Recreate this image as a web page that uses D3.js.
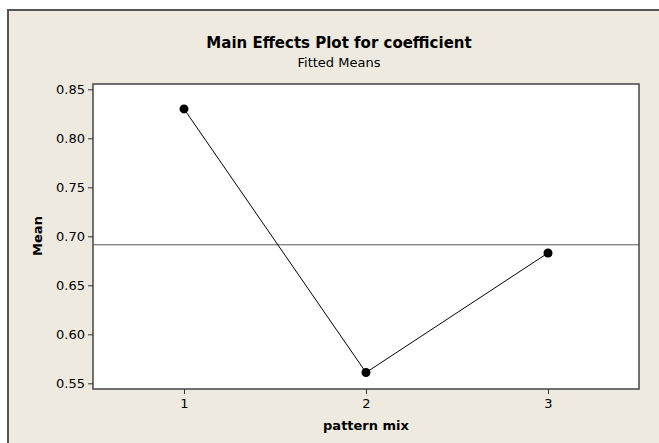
<!DOCTYPE html>
<html>
<head>
<meta charset="utf-8">
<script src="https://cdn.jsdelivr.net/npm/d3@7"></script>
<style>
  html, body { margin: 0; padding: 0; background: #ffffff; }
  svg { display: block; }
  text { font-family: "DejaVu Sans", sans-serif; fill: #000; }
</style>
</head>
<body>
<svg id="chart" width="659" height="443"></svg>
<script>
// Factor levels and fitted means
const levels = [1, 2, 3];
const means = [0.830, 0.561, 0.683];
const yTicks = [0.55, 0.60, 0.65, 0.70, 0.75, 0.80, 0.85];
const xTickLabels = ["1", "2", "3"];

const title = "Main Effects Plot for coefficient";
const subtitle = "Fitted Means";
const xLabel = "pattern mix";
const yLabel = "Mean";

const W = 659, H = 443;
const plot = { left: 93, top: 84, right: 639, bottom: 389 };
const FONT = "'DejaVu Sans', sans-serif";

const svg = d3.select("#chart");

// Outer frame
svg.append("rect")
  .attr("x", 8).attr("y", 10)
  .attr("width", W + 10).attr("height", H + 10)
  .attr("fill", "#EEEAE0")
  .attr("stroke", "#555")
  .attr("stroke-width", 2);

const x = d3.scaleLinear().domain([0.5, 3.5]).range([plot.left, plot.right]);
const y = d3.scaleLinear().domain([0.5442, 0.8554]).range([plot.bottom, plot.top]);

// Plot area
svg.append("rect")
  .attr("x", plot.left).attr("y", plot.top)
  .attr("width", plot.right - plot.left).attr("height", plot.bottom - plot.top)
  .attr("fill", "#fff");

// Reference line at the grand mean
const grandMean = d3.mean(means);
svg.append("line")
  .attr("x1", plot.left).attr("x2", plot.right)
  .attr("y1", y(grandMean)).attr("y2", y(grandMean))
  .attr("stroke", "#555").attr("stroke-width", 1);

// Connecting line and points
const pts = levels.map((l, i) => [l, means[i]]);
svg.append("path")
  .datum(pts)
  .attr("fill", "none")
  .attr("stroke", "#000")
  .attr("stroke-width", 1)
  .attr("d", d3.line().x(d => x(d[0])).y(d => y(d[1])));

svg.selectAll("circle.pt")
  .data(pts)
  .join("circle")
  .attr("class", "pt")
  .attr("cx", d => x(d[0])).attr("cy", d => y(d[1]))
  .attr("r", 4.5)
  .attr("fill", "#000");

// Plot border
svg.append("rect")
  .attr("x", plot.left).attr("y", plot.top)
  .attr("width", plot.right - plot.left).attr("height", plot.bottom - plot.top)
  .attr("fill", "none")
  .attr("stroke", "#444")
  .attr("stroke-width", 1.5);

// Axes
const yAxis = d3.axisLeft(y).tickValues(yTicks).tickFormat(d3.format(".2f")).tickSize(5).tickPadding(3);
const gy = svg.append("g").attr("transform", `translate(${plot.left},0)`).call(yAxis)
  .attr("font-size", 13).attr("font-family", FONT);
gy.select(".domain").remove();
gy.selectAll(".tick line").attr("stroke", "#333");

const xAxis = d3.axisBottom(x).tickValues(levels).tickFormat((d, i) => xTickLabels[i]).tickSize(5).tickPadding(5);
const gx = svg.append("g").attr("transform", `translate(0,${plot.bottom})`).call(xAxis)
  .attr("font-size", 13).attr("font-family", FONT);
gx.select(".domain").remove();
gx.selectAll(".tick line").attr("stroke", "#333");

// Titles
svg.append("text")
  .attr("x", 339).attr("y", 48)
  .attr("text-anchor", "middle")
  .attr("font-size", 15).attr("font-weight", "bold")
  .text(title);
svg.append("text")
  .attr("x", 339).attr("y", 67)
  .attr("text-anchor", "middle")
  .attr("font-size", 13)
  .text(subtitle);

svg.append("text")
  .attr("x", x(2)).attr("y", 430)
  .attr("text-anchor", "middle")
  .attr("font-size", 13).attr("font-weight", "bold")
  .text(xLabel);

svg.append("text")
  .attr("transform", `translate(42,236) rotate(-90)`)
  .attr("text-anchor", "middle")
  .attr("font-size", 13).attr("font-weight", "bold")
  .text(yLabel);
</script>
</body>
</html>
